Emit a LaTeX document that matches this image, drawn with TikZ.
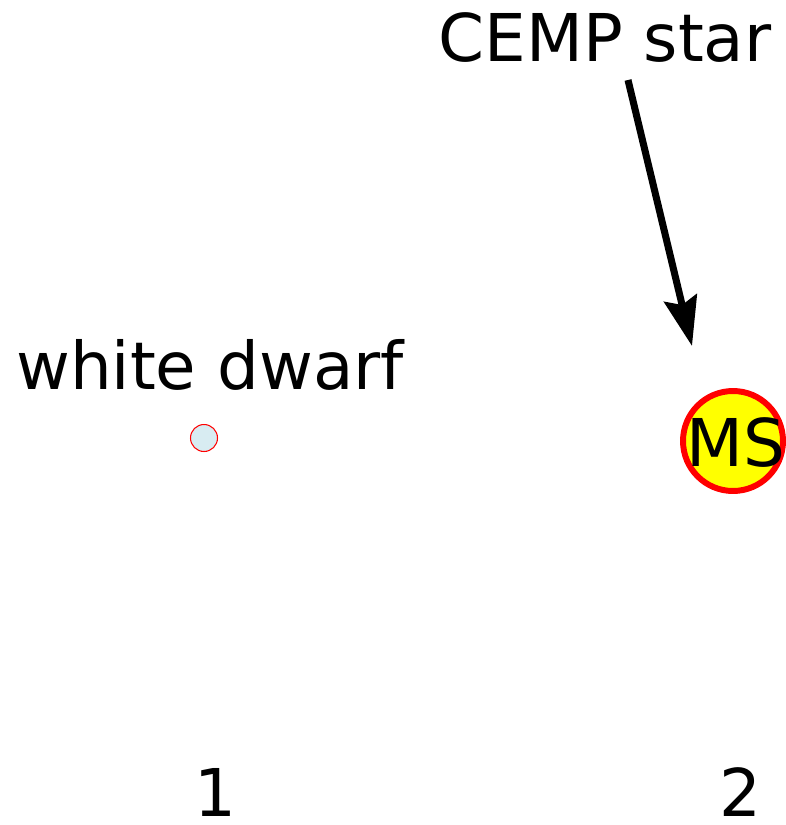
\documentclass[tikz,border=0pt]{standalone}
\usepackage{fontspec}
\setmainfont{DejaVu Sans}
\usepackage{tikz}
\usetikzlibrary{arrows.meta}
\definecolor{wdfill}{HTML}{D8ECF2}
\definecolor{msfill}{HTML}{FFFF00}
\definecolor{rim}{HTML}{FF0000}
\tikzset{
  lbl/.style={text=black, font=\fontsize{37.5}{42}\selectfont, inner sep=0pt},
  wdstar/.style={circle, draw=rim, fill=wdfill, line width=0.6pt, minimum size=0.54cm, inner sep=0pt},
  msstar/.style={circle, draw=rim, fill=msfill, line width=3.4pt, minimum size=2.0cm, inner sep=0pt},
  pointer/.style={draw=black, line width=4pt, -{Stealth[length=28pt, width=19pt, inset=4pt]}}
}

\begin{document}
\begin{tikzpicture}[x=0.02cm, y=-0.02cm]
  \useasboundingbox (0,0) rectangle (786,825);

  \node[lbl] (cemp) at (605,38) {CEMP star};
  \node[lbl] (wdlabel) at (210,365) {white dwarf};

  \node[wdstar] (wd) at (204,438) {};
  \node[msstar] (ms) at (733,441) {};
  \node[lbl] (mslabel) at (736,443) {MS};

  \coordinate (tail) at (628,80);
  \coordinate (tip) at (692,346);
  \draw[pointer] (tail) -- (tip);

  \node[lbl] (one) at (215,792) {1};
  \node[lbl] (two) at (740,792) {2};
\end{tikzpicture}
\end{document}
